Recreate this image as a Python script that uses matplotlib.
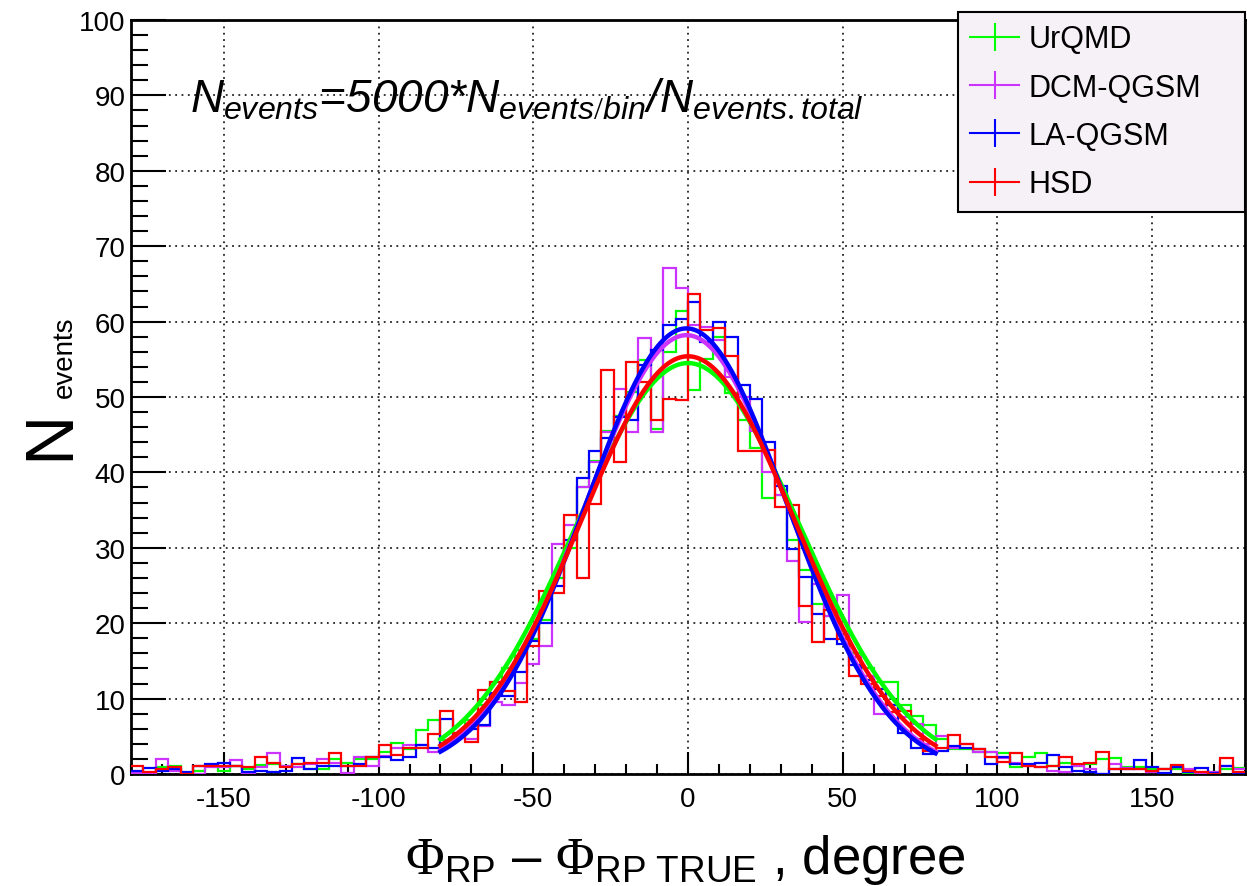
import numpy as np
import matplotlib
matplotlib.use("Agg")
import matplotlib.pyplot as plt
from matplotlib.lines import Line2D
from matplotlib.ticker import MultipleLocator

plt.rcParams['font.family'] = ['Liberation Sans', 'DejaVu Sans']
plt.rcParams['axes.unicode_minus'] = False
plt.rcParams['mathtext.fontset'] = 'custom'
plt.rcParams['mathtext.rm'] = 'Liberation Serif'
plt.rcParams['mathtext.sf'] = 'Liberation Sans'
plt.rcParams['mathtext.it'] = 'Liberation Sans:italic'

# 4-degree bins from -180 to 180
bin_edges = np.arange(-180, 181, 4)

models = ["UrQMD", "DCM-QGSM", "LA-QGSM", "HSD"]
colors = ["#00ff00", "#cc33ff", "#0000ff", "#ff0000"]

urqmd = [0.3, 0.0, 0.9, 1.1, 0.1, 0.4, 1.1, 0.4, 1.1, 0.7,
         1.2, 1.3, 1.0, 1.3, 0.7, 0.7, 2.0, 1.5, 2.0, 2.0,
         2.9, 4.1, 3.3, 5.8, 7.1, 4.5, 5.5, 7.1, 9.1, 12.2,
         14.0, 16.4, 17.9, 20.4, 26.0, 30.0, 38.1, 41.5, 45.5, 47.5,
         50.7, 54.9, 45.8, 56.0, 61.4, 50.9, 55.1, 58.0, 50.5, 47.0,
         43.3, 36.6, 37.0, 31.0, 27.0, 22.6, 21.0, 19.0, 16.0, 14.0,
         12.2, 12.2, 9.1, 7.7, 6.5, 4.7, 3.3, 3.3, 2.9, 2.9,
         2.8, 0.9, 2.3, 2.8, 1.0, 1.5, 1.1, 1.3, 2.0, 2.1,
         0.9, 0.9, 0.7, 0.7, 0.7, 0.1, 0.0, 0.2, 0.6, 0.8]

dcm_qgsm = [0.1, 0.0, 2.0, 0.4, 0.0, 0.0, 0.9, 0.9, 1.8, 0.0,
            0.9, 2.8, 1.1, 0.9, 1.3, 2.0, 1.5, 0.1, 2.2, 1.1,
            2.4, 3.4, 3.8, 3.8, 2.9, 4.0, 5.1, 4.7, 6.3, 9.6,
            9.2, 12.1, 14.6, 17.0, 30.5, 33.0, 38.0, 41.4, 45.4, 51.1,
            45.4, 57.8, 45.4, 67.1, 64.4, 59.5, 59.3, 57.5, 52.6, 50.0,
            45.5, 40.1, 37.0, 28.3, 20.2, 25.2, 21.0, 23.8, 15.5, 13.0,
            8.0, 9.1, 7.5, 6.6, 4.0, 5.0, 3.5, 4.0, 2.9, 2.9,
            2.1, 1.5, 1.1, 0.9, 0.4, 0.3, 1.1, 0.7, 0.0, 1.3,
            0.8, 0.6, 0.2, 0.7, 0.9, 0.6, 0.0, 0.2, 1.0, 0.6]

la_qgsm = [0.4, 0.8, 0.4, 0.7, 0.2, 1.1, 1.3, 1.4, 1.0, 0.2,
           0.4, 0.2, 0.4, 2.1, 0.7, 1.1, 1.1, 1.1, 1.3, 2.2,
           2.2, 1.8, 2.2, 3.8, 3.5, 7.3, 5.3, 6.0, 6.5, 10.7,
           10.4, 13.5, 17.7, 20.0, 25.0, 31.0, 39.2, 42.9, 44.5, 47.4,
           47.0, 54.2, 56.2, 59.5, 60.4, 62.6, 57.3, 60.0, 58.0, 51.6,
           49.8, 44.0, 38.2, 29.9, 26.1, 21.2, 17.9, 17.3, 14.4, 12.5,
           11.3, 9.2, 5.5, 3.5, 2.7, 3.0, 3.7, 3.4, 3.3, 1.3,
           2.2, 1.3, 1.3, 1.5, 2.5, 0.9, 0.4, 0.3, 0.0, 0.7,
           0.6, 1.9, 0.9, 0.1, 0.9, 0.2, 0.8, 0.1, 1.0, 0.1]

hsd = [1.0, 0.2, 0.7, 0.9, 0.0, 1.0, 1.1, 1.1, 1.0, 0.9,
       2.3, 1.5, 0.9, 1.3, 1.5, 1.5, 2.8, 1.1, 1.1, 2.2,
       3.8, 2.5, 3.4, 3.4, 5.3, 8.4, 5.5, 4.3, 11.1, 12.2,
       11.0, 9.6, 17.0, 24.3, 24.0, 34.3, 26.0, 35.8, 53.6, 41.4,
       54.7, 52.0, 46.9, 49.8, 49.6, 63.7, 58.9, 59.1, 55.4, 42.8,
       42.9, 43.0, 35.4, 35.7, 22.3, 17.5, 21.7, 17.9, 13.0, 12.0,
       10.4, 8.2, 8.4, 4.6, 3.1, 3.5, 5.2, 4.0, 3.3, 2.2,
       1.6, 2.8, 1.1, 0.9, 1.1, 2.2, 1.3, 1.5, 2.9, 0.7,
       0.7, 0.6, 0.4, 0.6, 1.2, 0.4, 0.2, 0.0, 2.1, 0.3]

# gaussian fit results (constant, mean, sigma), fitted in -80..80
fit_const = [54.5, 58.2, 59.1, 55.4]
fit_mean = [0.0, -0.5, -0.5, 0.0]
fit_sigma = [36.0, 33.0, 32.5, 34.5]
fit_lo, fit_hi = -80, 80

W, H = 1247, 887
fig = plt.figure(figsize=(W / 100, H / 100), dpi=100)
ax = fig.add_axes([131 / W, 1 - 775 / H, (1245 - 131) / W, (775 - 21) / H])

all_hists = [urqmd, dcm_qgsm, la_qgsm, hsd]
for vals, c in zip(all_hists, colors):
    ax.stairs(vals, bin_edges, color=c, lw=1.6, baseline=None, zorder=3)

xf = np.linspace(fit_lo, fit_hi, 400)
for A, mu, s, c in zip(fit_const, fit_mean, fit_sigma, colors):
    ax.plot(xf, A * np.exp(-0.5 * ((xf - mu) / s) ** 2), color=c, lw=3.2, zorder=4)

ax.set_xlim(-180, 180)
ax.set_ylim(0, 100)
ax.set_xticks([-150, -100, -50, 0, 50, 100, 150])
ax.set_yticks(np.arange(0, 101, 10))
ax.xaxis.set_minor_locator(MultipleLocator(10))
ax.yaxis.set_minor_locator(MultipleLocator(2))
ax.grid(True, which='major', linestyle=(0, (1, 2.5)), color='#222222', lw=1.3)
ax.tick_params(axis='y', which='major', direction='in', length=25, width=1.5,
               labelsize=20, pad=4, right=False)
ax.tick_params(axis='y', which='minor', direction='in', length=12, width=1.5)
ax.tick_params(axis='x', which='major', direction='in', length=16, width=1.5,
               labelsize=20, pad=9, top=False)
ax.tick_params(axis='x', which='minor', direction='in', length=7, width=1.5)
for sp in ax.spines.values():
    sp.set_linewidth(2)

handles = [Line2D([], [], color=c, lw=1.5, marker='|', markersize=20,
                  markeredgewidth=1.5) for c in colors]
leg = fig.legend(handles, models, loc='upper left',
                 bbox_to_anchor=(958 / W, 1 - 22 / H, (1245 - 958) / W, 0.01),
                 mode='expand', fontsize=22, numpoints=1, frameon=True,
                 fancybox=False, edgecolor='black', facecolor='#f6f1f6',
                 framealpha=1, handlelength=1.6, handletextpad=0.3,
                 labelspacing=0.6, borderpad=0.4, borderaxespad=0)
leg.get_frame().set_linewidth(1.5)

fig.text(190 / W, 1 - 112 / H,
         r'$N_{events}$=5000*$N_{events/bin}$/$N_{events.total}$',
         fontsize=33, style='italic', va='baseline', ha='left')

fig.text(685 / W, 1 - 874 / H,
         r'$\Phi_{\mathsf{RP}}$ – $\Phi_{\mathsf{RP\ TRUE}}$ , degree',
         fontsize=38, ha='center', va='baseline')

fig.text(68 / W, 1 - 460 / H, 'N', rotation=90, rotation_mode='anchor',
         ha='left', va='baseline', fontsize=50)
fig.text(72 / W, 1 - 398 / H, 'events', rotation=90, rotation_mode='anchor',
         ha='left', va='baseline', fontsize=20)

fig.savefig("out.png", dpi=100)
